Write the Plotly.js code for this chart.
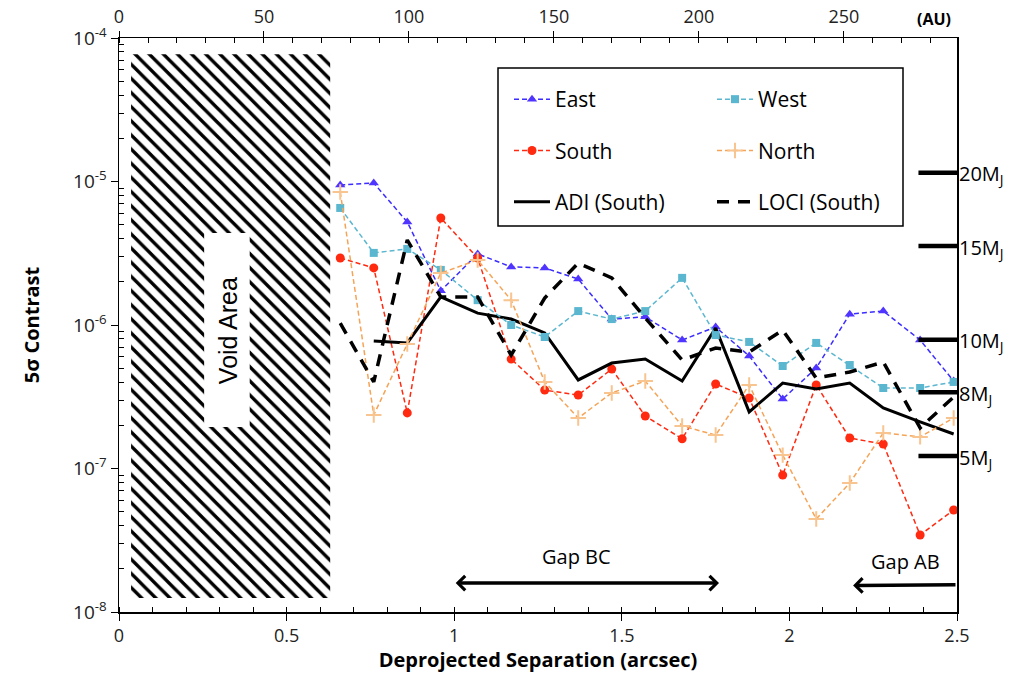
<!DOCTYPE html>
<html>
<head>
<meta charset="utf-8">
<script src="https://cdn.plot.ly/plotly-3.0.1.min.js"></script>
<style>html,body{margin:0;padding:0;background:#fff}#chart{width:1013px;height:673px}</style>
</head>
<body>
<div id="chart"></div>
<script>
// ---- data ----
const sepArcsec = [0.66,0.76,0.86,0.96,1.07,1.17,1.27,1.37,1.47,1.57,1.68,1.78,1.88,1.98,2.08,2.18,2.28,2.39,2.49];
const east  = [9.45e-6,9.76e-6,5.22e-6,1.73e-6,3.13e-6,2.54e-6,2.50e-6,2.09e-6,1.10e-6,1.14e-6,7.86e-7,9.68e-7,6.08e-7,3.05e-7,5.01e-7,1.19e-6,1.25e-6,7.86e-7,4.07e-7];
const west  = [6.54e-6,3.18e-6,3.39e-6,2.42e-6,1.49e-6,1.00e-6,8.25e-7,1.25e-6,1.10e-6,1.25e-6,2.13e-6,8.51e-7,7.62e-7,5.18e-7,7.50e-7,5.26e-7,3.64e-7,3.64e-7,4.01e-7];
const south = [2.93e-6,2.50e-6,2.44e-7,5.57e-6,2.93e-6,5.79e-7,3.52e-7,3.25e-7,4.93e-7,2.32e-7,1.61e-7,3.88e-7,3.10e-7,9.0e-8,3.82e-7,1.63e-7,1.48e-7,3.44e-8,5.14e-8];
const north = [8.45e-6,2.36e-7,7.38e-7,2.30e-6,2.84e-6,1.49e-6,4.01e-7,2.25e-7,3.36e-7,4.07e-7,1.98e-7,1.71e-7,3.82e-7,1.24e-7,4.45e-8,7.92e-8,1.77e-7,1.66e-7,2.25e-7];
const adiSep = [0.76,0.86,0.96,1.07,1.17,1.27,1.37,1.47,1.57,1.68,1.78,1.88,1.98,2.08,2.18,2.28,2.39,2.49];
const adiSouth  = [7.73e-7,7.50e-7,1.57e-6,1.21e-6,1.10e-6,8.80e-7,4.14e-7,5.43e-7,5.79e-7,4.07e-7,9.53e-7,2.48e-7,3.94e-7,3.58e-7,3.94e-7,2.64e-7,2.11e-7,1.74e-7];
const lociSouth = [1.03e-6,4.01e-7,3.91e-6,1.57e-6,1.57e-6,6.18e-7,1.54e-6,2.70e-6,2.13e-6,1.12e-6,5.70e-7,6.91e-7,6.48e-7,9.22e-7,4.27e-7,4.70e-7,5.52e-7,1.92e-7,3.15e-7];

const massLabels   = ['20','15','10','8','5'];
const massContrast = [1.15e-5,3.55e-6,7.9e-7,3.4e-7,1.22e-7];

const voidRange  = [0.036, 0.63];
const gapBC = [1.0, 1.79];
const gapAB = [2.19, 2.5];

const xTickVals = [0,0.5,1,1.5,2,2.5];
const xTickText = ['0','0.5','1','1.5','2','2.5'];
const auTickVals = [0,50,100,150,200,250];
const auMax = 289;
const yTickVals = [1e-8,1e-7,1e-6,1e-5,1e-4];
const yTickText = ['10<sup>-8</sup>','10<sup>-7</sup>','10<sup>-6</sup>','10<sup>-5</sup>','10<sup>-4</sup>'];

// ---- build ----
const FONT = 'Open Sans, Noto Sans, sans-serif';
const yMinor = [];
for (let e = -8; e < -4; e++) for (let m = 2; m <= 9; m++) yMinor.push(m * Math.pow(10, e));

const traces = [];
// hatched void area
traces.push({
  x: [voidRange[0], voidRange[1], voidRange[1], voidRange[0], voidRange[0]],
  y: [1.25e-8, 1.25e-8, 7.7e-5, 7.7e-5, 1.25e-8],
  type: 'scatter', mode: 'lines', fill: 'toself',
  fillcolor: 'rgba(255,255,255,0)',
  fillpattern: {shape: '\\', fgcolor: '#000', bgcolor: '#fff', size: 10, solidity: 0.34},
  line: {width: 0, color: 'rgba(0,0,0,0)'},
  hoverinfo: 'skip', showlegend: false
});
// dummy for top axis
traces.push({x: [0, auMax], y: [1e-8, 1e-8], xaxis: 'x2', mode: 'markers', marker: {opacity: 0}, showlegend: false, hoverinfo: 'skip'});

const dashSmall = '5px,3px';
traces.push({x: sepArcsec, y: east, name: 'East', legend: 'legend', legendgroup: 'a', mode: 'lines+markers',
  line: {color: '#3b2cff', width: 1.5, dash: dashSmall},
  marker: {symbol: 'triangle-up', size: 9, color: '#4f35ff'}});
traces.push({x: sepArcsec, y: south, name: 'South', legend: 'legend', legendgroup: 'b', mode: 'lines+markers',
  line: {color: '#ff2a10', width: 1.5, dash: dashSmall},
  marker: {symbol: 'circle', size: 9, color: '#ff2a10'}});
traces.push({x: adiSep, y: adiSouth, name: 'ADI (South)', legend: 'legend', legendgroup: 'c', mode: 'lines',
  line: {color: '#000', width: 3}});
traces.push({x: sepArcsec, y: west, name: 'West', legend: 'legend2', legendgroup: 'd', mode: 'lines+markers',
  line: {color: '#5bb7cf', width: 1.5, dash: dashSmall},
  marker: {symbol: 'square', size: 8, color: '#5bb7cf'}});
traces.push({x: sepArcsec, y: north, name: 'North', legend: 'legend2', legendgroup: 'e', mode: 'lines+markers',
  line: {color: '#f5a457', width: 1.5, dash: dashSmall},
  marker: {symbol: 'cross-thin', size: 11, color: '#f8c48f', line: {width: 2, color: '#f8c48f'}}});
traces.push({x: sepArcsec, y: lociSouth, name: 'LOCI (South)', legend: 'legend2', legendgroup: 'f', mode: 'lines',
  line: {color: '#000', width: 3.5, dash: '12px,9px'}});

const shapes = [];
const annotations = [];
// white box for "Void Area" (shapes on a log axis take data values)
shapes.push({type: 'rect', xref: 'x', yref: 'y', x0: 0.254, x1: 0.39, y0: 1.95e-7, y1: 4.37e-6,
  fillcolor: '#fff', line: {width: 0}, layer: 'above'});
annotations.push({xref: 'x', yref: 'y', x: 0.325, y: Math.log10(9.2e-7), text: 'Void Area', showarrow: false,
  textangle: -90, font: {family: 'Liberation Sans, Arial, sans-serif', size: 25, color: '#000'}});
// mass markers
massLabels.forEach((m, i) => {
  shapes.push({type: 'line', xref: 'x', yref: 'y', x0: 2.385, x1: 2.5, y0: massContrast[i], y1: massContrast[i],
    line: {color: '#000', width: 4.5}, layer: 'above'});
  annotations.push({xref: 'x', yref: 'y', x: 2.5, y: Math.log10(massContrast[i]), xanchor: 'left', yanchor: 'middle', xshift: 0, yshift: -2,
    text: m + 'M<sub>J</sub>', showarrow: false, font: {family: FONT, size: 20, color: '#000'}});
});
// legend box
shapes.push({type: 'rect', xref: 'paper', yref: 'paper', x0: (498-119)/838, x1: (903-119)/838, y0: (612-226)/574, y1: (612-68)/574,
  line: {color: '#000', width: 1.5}, fillcolor: 'rgba(255,255,255,0)', layer: 'below'});
// gap arrows
const yArrowBC = Math.log10(1.59e-8);
const yArrowAB = Math.log10(1.53e-8);
annotations.push({xref: 'x', yref: 'y', axref: 'x', ayref: 'y', x: gapBC[1], y: yArrowBC, ax: gapBC[0], ay: yArrowBC,
  showarrow: true, arrowhead: 4, startarrowhead: 4, arrowside: 'end+start', arrowwidth: 3.5, arrowsize: 0.8, startarrowsize: 0.8, arrowcolor: '#000', text: ''});
annotations.push({xref: 'x', yref: 'y', x: (gapBC[0]+gapBC[1])/2 - 0.03, y: yArrowBC, yshift: 27, text: 'Gap BC', showarrow: false,
  font: {family: FONT, size: 20, color: '#000'}});
annotations.push({xref: 'x', yref: 'y', axref: 'x', ayref: 'y', x: gapAB[0], y: yArrowAB, ax: gapAB[1], ay: Math.log10(1.55e-8),
  showarrow: true, arrowhead: 4, arrowwidth: 3.5, arrowsize: 0.8, arrowcolor: '#000', text: ''});
annotations.push({xref: 'x', yref: 'y', x: 2.345, y: yArrowAB, yshift: 24, text: 'Gap AB', showarrow: false,
  font: {family: FONT, size: 20, color: '#000'}});
// (AU) label
annotations.push({xref: 'paper', yref: 'paper', x: 0.995, y: 1.0, xanchor: 'right', yanchor: 'bottom', yshift: 6, text: '<b>(AU)</b>',
  showarrow: false, font: {family: FONT, size: 16, color: '#000'}});

const legendCommon = {bgcolor: 'rgba(0,0,0,0)', borderwidth: 0, font: {family: FONT, size: 21, color: '#000'},
  traceorder: 'grouped', tracegroupgap: 21, xanchor: 'left', yanchor: 'top', itemwidth: 36};

const layout = {
  width: 1013, height: 673,
  margin: {l: 119, r: 56, t: 38, b: 61},
  paper_bgcolor: '#fff', plot_bgcolor: '#fff',
  font: {family: FONT, color: '#000'},
  showlegend: true,
  legend: Object.assign({x: (509-119)/838, y: (612-79)/574}, legendCommon),
  legend2: Object.assign({x: (712-119)/838, y: (612-79)/574}, legendCommon),
  xaxis: {range: [0, 2.5], tickvals: xTickVals, ticktext: xTickText, ticks: 'outside', ticklen: 7, tickwidth: 1, tickcolor: '#000',
    showline: true, linecolor: '#000', linewidth: 1.5, showgrid: false, zeroline: false,
    minor: {dtick: 0.1, ticks: 'inside', ticklen: 5, tickcolor: '#000', showgrid: false},
    tickfont: {family: FONT, size: 18, color: '#222'},
    title: {text: '<b>Deprojected Separation (arcsec)</b>', font: {family: FONT, size: 20, color: '#000'}, standoff: 2}},
  xaxis2: {overlaying: 'x', side: 'top', range: [0, auMax], tickvals: auTickVals, ticks: 'outside', ticklen: 6, tickcolor: '#000',
    showline: true, linecolor: '#000', linewidth: 1.5, showgrid: false, zeroline: false,
    minor: {dtick: 10, ticks: 'inside', ticklen: 5, tickcolor: '#000', showgrid: false},
    tickfont: {family: FONT, size: 18, color: '#222'}},
  yaxis: {type: 'log', range: [-8, -4], tickvals: yTickVals, ticktext: yTickText, ticks: 'outside', ticklen: 7, tickcolor: '#000',
    showline: true, linecolor: '#000', linewidth: 1.5, mirror: true, showgrid: false, zeroline: false,
    minor: {tickmode: 'array', tickvals: yMinor, ticks: 'inside', ticklen: 5, tickcolor: '#000', showgrid: false},
    tickfont: {family: FONT, size: 19, color: '#222'},
    title: {text: '<b>5σ Contrast</b>', font: {family: FONT, size: 20, color: '#000'}, standoff: 28}},
  shapes: shapes,
  annotations: annotations
};

Plotly.newPlot('chart', traces, layout, {displayModeBar: false, staticPlot: true});
</script>
</body>
</html>
